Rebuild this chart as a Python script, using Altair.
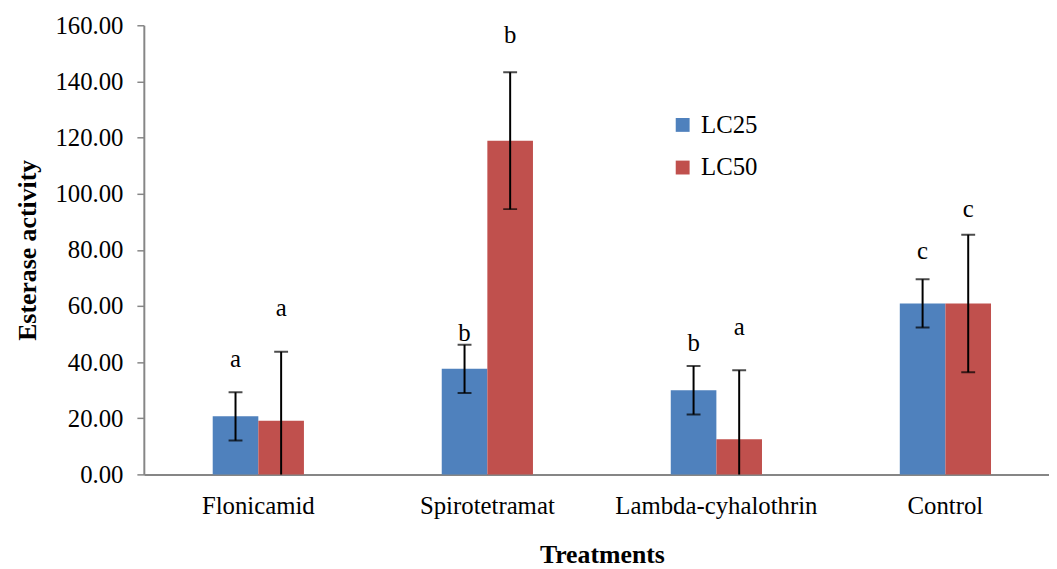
import altair as alt
import pandas as pd

treatments = ["Flonicamid", "Spirotetramat", "Lambda-cyhalothrin", "Control"]
series = ["LC25", "LC50"]
lc25 = [20.7, 37.6, 30.0, 60.9]
lc50 = [19.1, 118.9, 12.5, 60.9]
err25 = [8.6, 8.6, 8.65, 8.6]
err50 = [24.6, 24.4, 24.6, 24.5]
letters25 = ["a", "b", "b", "c"]
letters50 = ["a", "b", "a", "c"]
letter_y25 = [38.1, 47.5, 44.0, 76.7]
letter_y50 = [56.5, 153.8, 49.8, 91.6]
colors = ["#4F81BD", "#C0504D"]
y_ticks = [0, 20, 40, 60, 80, 100, 120, 140, 160]

rows = []
for s, vals, errs, lets, lys in [
    ("LC25", lc25, err25, letters25, letter_y25),
    ("LC50", lc50, err50, letters50, letter_y50),
]:
    for t, v, e, l, ly in zip(treatments, vals, errs, lets, lys):
        rows.append(dict(treatment=t, series=s, value=v, lo=v - e, hi=v + e,
                         letter=l, ly=ly))
df = pd.DataFrame(rows)

FONT = "Liberation Serif"

x_enc = alt.X(
    "treatment:N",
    sort=treatments,
    scale=alt.Scale(range=[0, 924], paddingInner=0.6017, paddingOuter=0.3008),
    axis=alt.Axis(
        title="Treatments",
        labelAngle=0,
        ticks=False,
        labelPadding=19,
        titlePadding=24,
        labelFont=FONT,
        labelFontSize=25,
        labelLimit=0,
        titleFont=FONT,
        titleFontSize=26,
        titleFontWeight="bold",
    ),
)
xoff = alt.XOffset("series:N", sort=series,
                   scale=alt.Scale(domain=series, paddingInner=0, paddingOuter=0))
y_scale = alt.Scale(domain=[0, 160], nice=False)

base = alt.Chart(df)

bars = base.mark_bar().encode(
    x=x_enc,
    xOffset=xoff,
    y=alt.Y(
        "value:Q",
        scale=y_scale,
        axis=alt.Axis(
            title="Esterase activity",
            values=y_ticks,
            format=".2f",
            grid=False,
            tickSize=7,
            labelPadding=14,
            titlePadding=15,
            labelFont=FONT,
            labelFontSize=25,
            titleFont=FONT,
            titleFontSize=26,
            titleFontWeight="bold",
        ),
    ),
    color=alt.Color(
        "series:N",
        scale=alt.Scale(domain=series, range=colors),
        legend=alt.Legend(
            title=None,
            orient="none",
            legendX=531,
            legendY=88,
            symbolType="square",
            symbolSize=196,
            symbolStrokeWidth=0,
            labelFont=FONT,
            labelFontSize=25,
            labelOffset=6,
            rowPadding=17,
            padding=0,
        ),
    ),
)

rules = base.mark_rule(color="black", strokeWidth=2, clip=True).encode(
    x=alt.X("treatment:N", sort=treatments),
    xOffset=xoff,
    y=alt.Y("lo:Q", scale=y_scale),
    y2="hi:Q",
)

cap_hi = base.mark_tick(color="black", size=14, thickness=2, clip=True).encode(
    x=alt.X("treatment:N", sort=treatments),
    xOffset=xoff,
    y=alt.Y("hi:Q", scale=y_scale),
)
cap_lo = base.mark_tick(color="black", size=14, thickness=2, clip=True).encode(
    x=alt.X("treatment:N", sort=treatments),
    xOffset=xoff,
    y=alt.Y("lo:Q", scale=y_scale),
)

letters = base.mark_text(font=FONT, fontSize=25, color="black",
                         baseline="alphabetic").encode(
    x=alt.X("treatment:N", sort=treatments),
    xOffset=xoff,
    y=alt.Y("ly:Q", scale=y_scale),
    text="letter:N",
)

chart = (
    alt.layer(bars, rules, cap_hi, cap_lo, letters)
    .properties(
        width=913,
        height=453,
        autosize=alt.AutoSizeParams(type="none"),
        padding={"left": 137, "top": 15, "right": 0, "bottom": 93},
        background="white",
    )
    .configure_view(stroke=None)
    .configure_axis(
        labelColor="black",
        titleColor="black",
        domainColor="#868686",
        domainWidth=2,
        tickColor="#868686",
        tickWidth=1.5,
    )
)

chart.save("out.html", embed_options={"renderer": "svg", "actions": False})
